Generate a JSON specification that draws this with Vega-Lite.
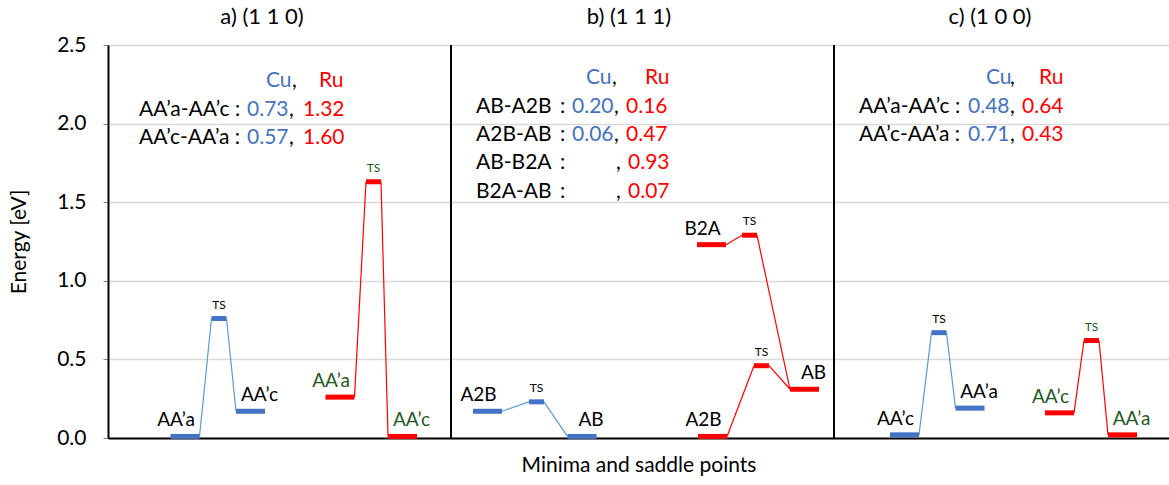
{
  "$schema": "https://vega.github.io/schema/vega-lite/v6.json",
  "autosize": {"type": "none"},
  "padding": {"left": 108, "top": 45, "right": 0, "bottom": 47},
  "width": 1061,
  "height": 393,
  "background": "white",
  "config": {
    "font": "Lato",
    "view": {"stroke": null},
    "text": {"font": "Lato"}
  },
  "datasets": {
    "levels": [
      {"panel": "a", "metal": "Cu", "name": "AA’a", "role": "initial", "x": 7.7, "E": 0.01},
      {"panel": "a", "metal": "Cu", "name": "TS", "role": "TS", "x": 11.1, "E": 0.76},
      {"panel": "a", "metal": "Cu", "name": "AA’c", "role": "final", "x": 14.25, "E": 0.17},
      {"panel": "a", "metal": "Ru", "name": "AA’a", "role": "initial", "x": 23.2, "E": 0.26},
      {"panel": "a", "metal": "Ru", "name": "TS", "role": "TS", "x": 26.55, "E": 1.63},
      {"panel": "a", "metal": "Ru", "name": "AA’c", "role": "final", "x": 29.45, "E": 0.01},
      {"panel": "b", "metal": "Cu", "name": "A2B", "role": "initial", "x": 37.95, "E": 0.17},
      {"panel": "b", "metal": "Cu", "name": "TS", "role": "TS", "x": 42.85, "E": 0.23},
      {"panel": "b", "metal": "Cu", "name": "AB", "role": "final", "x": 47.4, "E": 0.01},
      {"panel": "b", "metal": "Ru", "name": "A2B", "role": "initial", "x": 60.45, "E": 0.01},
      {"panel": "b", "metal": "Ru", "name": "TS", "role": "TS", "x": 65.35, "E": 0.46},
      {"panel": "b", "metal": "Ru", "name": "AB", "role": "final", "x": 69.65, "E": 0.31},
      {"panel": "b", "metal": "Ru", "name": "B2A", "role": "initial", "x": 60.35, "E": 1.23},
      {"panel": "b", "metal": "Ru", "name": "TS", "role": "TS", "x": 64.15, "E": 1.29},
      {"panel": "c", "metal": "Cu", "name": "AA’c", "role": "initial", "x": 79.65, "E": 0.02},
      {"panel": "c", "metal": "Cu", "name": "TS", "role": "TS", "x": 83.1, "E": 0.67},
      {"panel": "c", "metal": "Cu", "name": "AA’a", "role": "final", "x": 86.2, "E": 0.19},
      {"panel": "c", "metal": "Ru", "name": "AA’c", "role": "initial", "x": 95.15, "E": 0.16},
      {"panel": "c", "metal": "Ru", "name": "TS", "role": "TS", "x": 98.35, "E": 0.62},
      {"panel": "c", "metal": "Ru", "name": "AA’a", "role": "final", "x": 101.45, "E": 0.02}
    ],
    "paths": [
      {"metal": "Cu", "x": 9.15, "E": 0.01, "x2": 10.35, "E2": 0.76},
      {"metal": "Cu", "x": 11.85, "E": 0.76, "x2": 12.8, "E2": 0.17},
      {"metal": "Ru", "x": 24.65, "E": 0.26, "x2": 25.8, "E2": 1.63},
      {"metal": "Ru", "x": 27.3, "E": 1.63, "x2": 28.0, "E2": 0.01},
      {"metal": "Cu", "x": 39.4, "E": 0.17, "x2": 42.1, "E2": 0.23},
      {"metal": "Cu", "x": 43.6, "E": 0.23, "x2": 45.95, "E2": 0.01},
      {"metal": "Ru", "x": 61.9, "E": 0.01, "x2": 64.6, "E2": 0.46},
      {"metal": "Ru", "x": 66.1, "E": 0.46, "x2": 68.2, "E2": 0.31},
      {"metal": "Ru", "x": 61.8, "E": 1.23, "x2": 63.4, "E2": 1.29},
      {"metal": "Ru", "x": 64.9, "E": 1.29, "x2": 68.2, "E2": 0.31},
      {"metal": "Cu", "x": 81.1, "E": 0.02, "x2": 82.35, "E2": 0.67},
      {"metal": "Cu", "x": 83.85, "E": 0.67, "x2": 84.75, "E2": 0.19},
      {"metal": "Ru", "x": 96.6, "E": 0.16, "x2": 97.6, "E2": 0.62},
      {"metal": "Ru", "x": 99.1, "E": 0.62, "x2": 100.0, "E2": 0.02}
    ],
    "notes": [
      {"metal": "Cu", "text": "Cu", "x": 15.8, "y": 2.27},
      {"metal": "none", "text": ",", "x": 18.4, "y": 2.27},
      {"metal": "Ru", "text": "Ru", "x": 21.1, "y": 2.27},
      {"metal": "none", "text": "AA’a-AA’c :", "x": 3.1, "y": 2.087},
      {"metal": "Cu", "text": "0.73", "x": 13.9, "y": 2.087},
      {"metal": "none", "text": ",", "x": 18.1, "y": 2.087},
      {"metal": "Ru", "text": "1.32", "x": 19.5, "y": 2.087},
      {"metal": "none", "text": "AA’c-AA’a :", "x": 3.1, "y": 1.908},
      {"metal": "Cu", "text": "0.57", "x": 13.9, "y": 1.908},
      {"metal": "none", "text": ",", "x": 18.1, "y": 1.908},
      {"metal": "Ru", "text": "1.60", "x": 19.5, "y": 1.908},

      {"metal": "Cu", "text": "Cu", "x": 47.8, "y": 2.29},
      {"metal": "none", "text": ",", "x": 50.4, "y": 2.29},
      {"metal": "Ru", "text": "Ru", "x": 53.7, "y": 2.29},
      {"metal": "none", "text": "AB-A2B", "x": 36.8, "y": 2.106},
      {"metal": "none", "text": ":", "x": 45.2, "y": 2.106},
      {"metal": "Cu", "text": "0.20", "x": 46.4, "y": 2.106},
      {"metal": "none", "text": ",", "x": 50.6, "y": 2.106},
      {"metal": "Ru", "text": "0.16", "x": 51.8, "y": 2.106},
      {"metal": "none", "text": "A2B-AB", "x": 36.8, "y": 1.927},
      {"metal": "none", "text": ":", "x": 45.2, "y": 1.927},
      {"metal": "Cu", "text": "0.06", "x": 46.4, "y": 1.927},
      {"metal": "none", "text": ",", "x": 50.6, "y": 1.927},
      {"metal": "Ru", "text": "0.47", "x": 51.8, "y": 1.927},
      {"metal": "none", "text": "AB-B2A", "x": 36.8, "y": 1.749},
      {"metal": "none", "text": ":", "x": 45.2, "y": 1.749},
      {"metal": "none", "text": ",", "x": 50.8, "y": 1.749},
      {"metal": "Ru", "text": "0.93", "x": 52.0, "y": 1.749},
      {"metal": "none", "text": "B2A-AB", "x": 36.8, "y": 1.565},
      {"metal": "none", "text": ":", "x": 45.2, "y": 1.565},
      {"metal": "none", "text": ",", "x": 50.8, "y": 1.565},
      {"metal": "Ru", "text": "0.07", "x": 52.0, "y": 1.565},

      {"metal": "Cu", "text": "Cu", "x": 87.8, "y": 2.29},
      {"metal": "none", "text": ",", "x": 90.2, "y": 2.29},
      {"metal": "Ru", "text": "Ru", "x": 93.1, "y": 2.29},
      {"metal": "none", "text": "AA’a-AA’c :", "x": 75.1, "y": 2.106},
      {"metal": "Cu", "text": "0.48", "x": 86.0, "y": 2.106},
      {"metal": "none", "text": ",", "x": 90.2, "y": 2.106},
      {"metal": "Ru", "text": "0.64", "x": 91.4, "y": 2.106},
      {"metal": "none", "text": "AA’c-AA’a :", "x": 75.1, "y": 1.927},
      {"metal": "Cu", "text": "0.71", "x": 86.0, "y": 1.927},
      {"metal": "none", "text": ",", "x": 90.2, "y": 1.927},
      {"metal": "Ru", "text": "0.43", "x": 91.4, "y": 1.927}
    ],
    "titles": [
      {"text": "a) (1 1 0)", "x": 15.4},
      {"text": "b) (1 1 1)", "x": 52.1},
      {"text": "c) (1 0 0)", "x": 88.2}
    ],
    "dividers": [
      {"x": 34.3},
      {"x": 72.6}
    ]
  },
  "layer": [
    {
      "data": {"name": "paths"},
      "mark": {"type": "rule", "strokeWidth": 1.2},
      "encoding": {
        "x": {
          "field": "x", "type": "quantitative",
          "scale": {"domain": [0, 106.1], "nice": false, "zero": false},
          "axis": {
            "orient": "bottom", "labels": false, "ticks": false, "grid": false,
            "domainColor": "black", "domainWidth": 2,
            "title": "Minima and saddle points", "titleFont": "Lato",
            "titleFontSize": 21, "titleFontWeight": "normal", "titleColor": "black",
            "titlePadding": 16
          }
        },
        "y": {
          "field": "E", "type": "quantitative",
          "scale": {"domain": [0, 2.5], "nice": false},
          "axis": {
            "values": [0, 0.5, 1, 1.5, 2, 2.5], "format": ".1f",
            "labelFont": "Lato", "labelFontSize": 21, "labelColor": "black",
            "labelPadding": 17, "tickSize": 5, "tickColor": "#808080",
            "grid": true, "gridColor": "#D9D9D9", "gridWidth": 1.3,
            "domainColor": "black", "domainWidth": 2,
            "title": "Energy [eV]", "titleFont": "Lato", "titleFontSize": 21,
            "titleFontWeight": "normal", "titleColor": "black", "titlePadding": 27
          }
        },
        "x2": {"field": "x2"},
        "y2": {"field": "E2"},
        "color": {
          "condition": {"test": "datum.metal === 'Cu'", "value": "#5B9BD5"},
          "value": "#FF0000"
        }
      }
    },
    {
      "data": {"name": "levels"},
      "mark": {"type": "tick", "orient": "horizontal", "thickness": 5, "opacity": 1},
      "encoding": {
        "x": {"field": "x", "type": "quantitative"},
        "y": {"field": "E", "type": "quantitative"},
        "size": {
          "condition": {"test": "datum.role === 'TS'", "value": 15},
          "value": 29
        },
        "color": {
          "condition": {"test": "datum.metal === 'Cu'", "value": "#4472C4"},
          "value": "#FF0000"
        }
      }
    },
    {
      "data": {"name": "levels"},
      "transform": [{"filter": "datum.role === 'initial'"}],
      "mark": {"type": "text", "fontSize": 19, "baseline": "alphabetic", "align": "center", "dx": -9, "dy": -10},
      "encoding": {
        "x": {"field": "x", "type": "quantitative"},
        "y": {"field": "E", "type": "quantitative"},
        "text": {"field": "name"},
        "color": {
          "condition": {"test": "datum.metal === 'Ru' && datum.panel !== 'b'", "value": "#225A22"},
          "value": "black"
        }
      }
    },
    {
      "data": {"name": "levels"},
      "transform": [{"filter": "datum.role === 'final'"}],
      "mark": {"type": "text", "fontSize": 19, "baseline": "alphabetic", "align": "center", "dx": 9, "dy": -10},
      "encoding": {
        "x": {"field": "x", "type": "quantitative"},
        "y": {"field": "E", "type": "quantitative"},
        "text": {"field": "name"},
        "color": {
          "condition": {"test": "datum.metal === 'Ru' && datum.panel !== 'b'", "value": "#225A22"},
          "value": "black"
        }
      }
    },
    {
      "data": {"name": "levels"},
      "transform": [{"filter": "datum.role === 'TS'"}],
      "mark": {"type": "text", "fontSize": 12, "baseline": "alphabetic", "align": "center", "dy": -10},
      "encoding": {
        "x": {"field": "x", "type": "quantitative"},
        "y": {"field": "E", "type": "quantitative"},
        "text": {"field": "name"},
        "color": {
          "condition": {"test": "datum.metal === 'Ru' && datum.panel !== 'b'", "value": "#225A22"},
          "value": "black"
        }
      }
    },
    {
      "data": {"name": "notes"},
      "mark": {"type": "text", "fontSize": 21, "baseline": "middle", "align": "left"},
      "encoding": {
        "x": {"field": "x", "type": "quantitative"},
        "y": {"field": "y", "type": "quantitative"},
        "text": {"field": "text"},
        "color": {
          "condition": [
            {"test": "datum.metal === 'Cu'", "value": "#4472C4"},
            {"test": "datum.metal === 'Ru'", "value": "#FF0000"}
          ],
          "value": "black"
        }
      }
    },
    {
      "data": {"name": "titles"},
      "mark": {"type": "text", "fontSize": 22, "baseline": "middle", "align": "center", "dy": -28, "color": "black"},
      "encoding": {
        "x": {"field": "x", "type": "quantitative"},
        "y": {"datum": 2.5, "type": "quantitative"},
        "text": {"field": "text"}
      }
    },
    {
      "data": {"name": "dividers"},
      "mark": {"type": "rule", "color": "black", "strokeWidth": 2},
      "encoding": {
        "x": {"field": "x", "type": "quantitative"}
      }
    },
    {
      "mark": {"type": "rule", "color": "black", "strokeWidth": 2},
      "encoding": {
        "y": {"datum": 2.5, "type": "quantitative"}
      }
    }
  ]
}
